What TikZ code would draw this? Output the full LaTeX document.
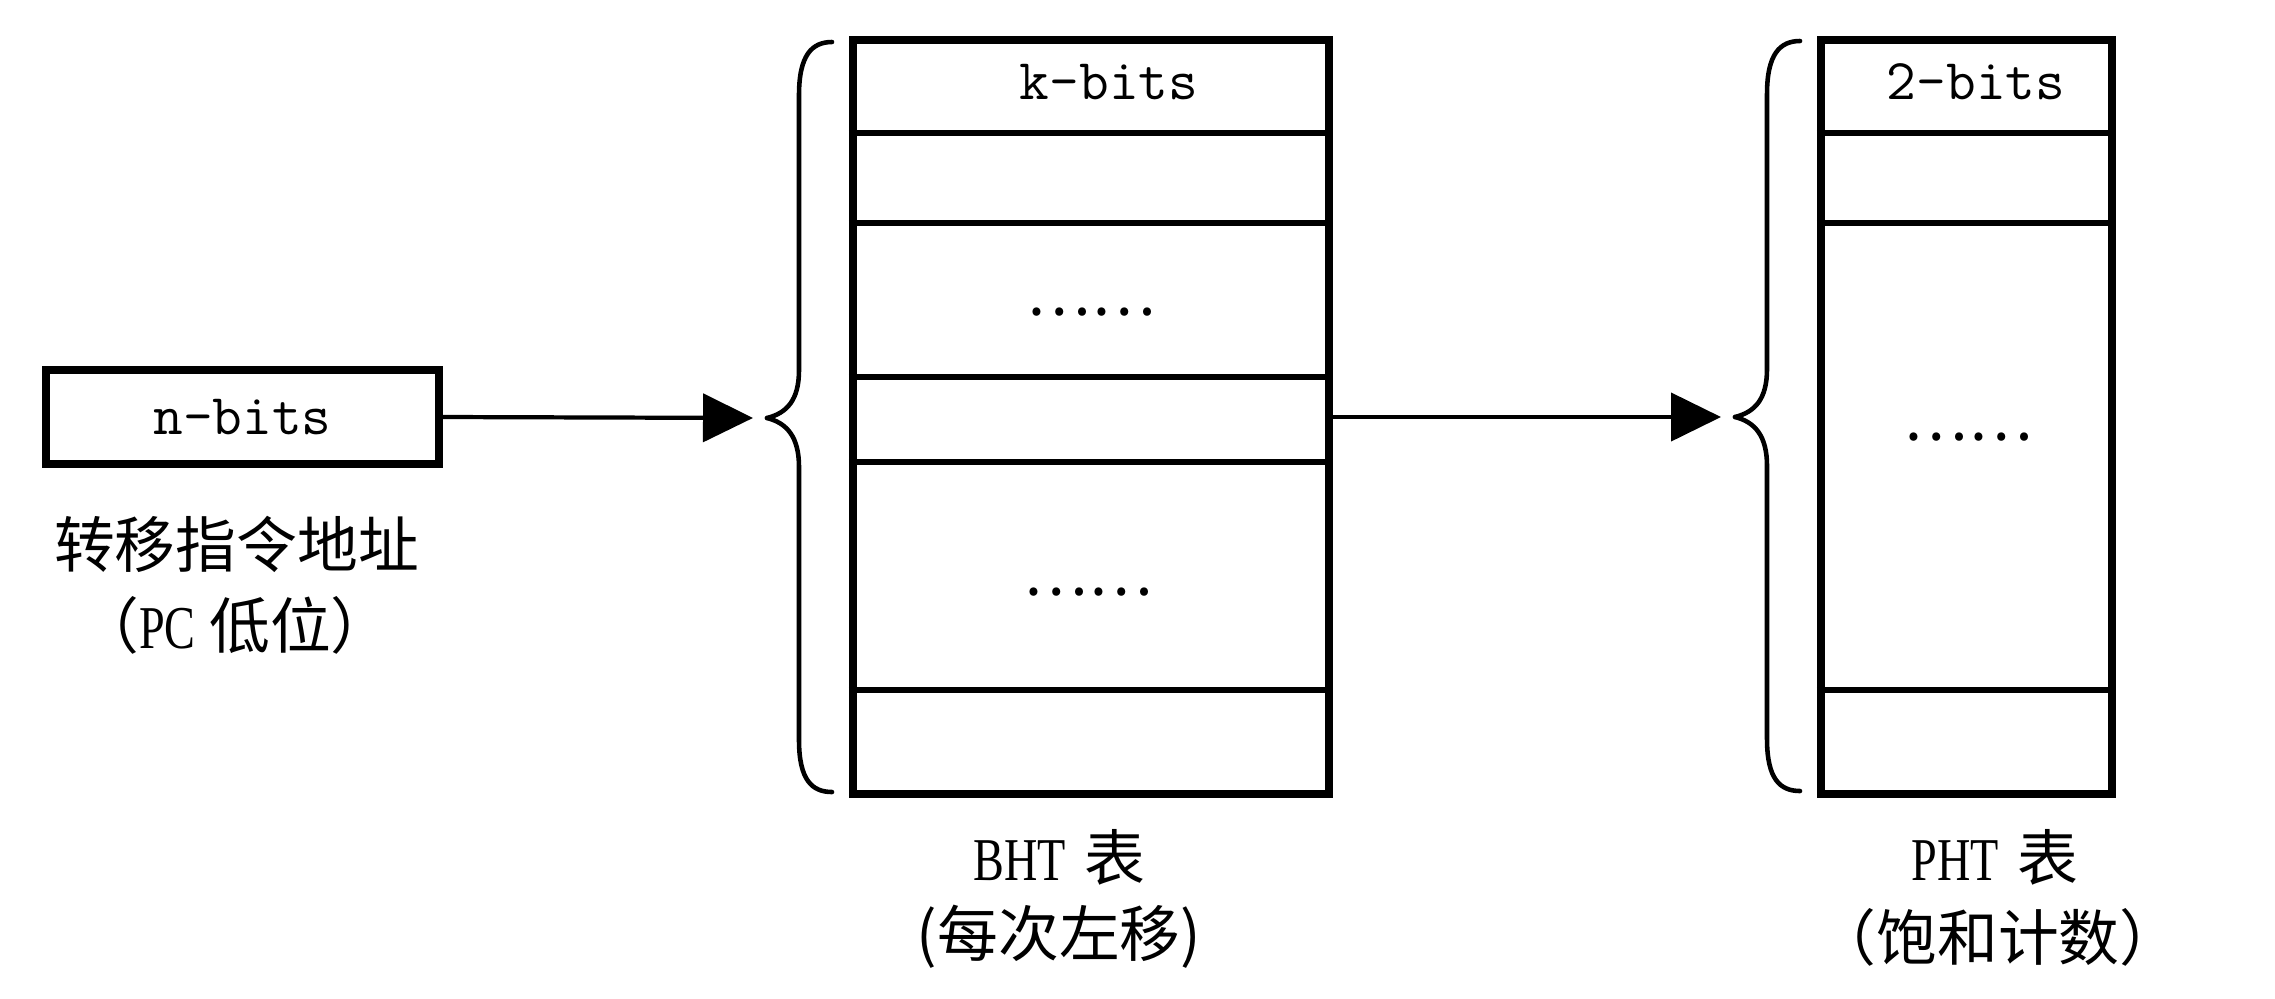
\documentclass[tikz,border=0pt]{standalone}
\usepackage{fontspec}
\newfontfamily\latn{Liberation Serif}[FakeStretch=0.76]
\newfontfamily\cjk{Noto Sans CJK SC}
\usetikzlibrary{positioning}
\usetikzlibrary{arrows.meta}

\begin{document}
\begin{tikzpicture}[
  box/.style={draw,line width=2.3pt,inner sep=0pt},
  row/.style={line width=1.6pt},
  link/.style={line width=1.2pt,-{Triangle[length=5mm,width=4.8mm]},shorten >=1.4mm},
  curly/.style={line width=1.3pt,line cap=round},
  lbl/.style={font=\fontsize{17.3pt}{21pt}\selectfont},
  bits/.style={font=\fontsize{16.4pt}{19pt}\selectfont\ttfamily}
]
 \useasboundingbox (0,0) rectangle (22.75,-9.98);
 % address register
 \node[box,bits,minimum width=3.93cm,minimum height=0.94cm] (nbits) at (2.425,-4.17) {n-bits};
 \node[lbl] (addr) at (2.365,-5.44) {\cjk 转移指令地址};
 \node[lbl] (pc) at (2.35,-6.25) {\cjk （{\latn PC} 低位）};
 % BHT table
 \node[box,minimum width=4.76cm,minimum height=7.54cm] (bht) at (10.91,-4.17) {};
 \foreach \y in {1.33,2.23,3.77,4.62,6.90}
   \draw[row] (bht.west |- 0,-\y) -- (bht.east |- 0,-\y);
 \node[bits] (kbits) at (11.09,-0.82) {k-bits};
 \node[lbl] (bdots1) at (10.91,-3.12) {\cjk ……};
 \node[lbl] (bdots2) at (10.88,-5.92) {\cjk ……};
 \node[lbl] (bhtname) at (10.59,-8.57) {{\latn BHT} \cjk 表};
 \node[lbl] (bhtnote) at (10.59,-9.37) {\cjk (每次左移)};
 % PHT table
 \node[box,minimum width=2.91cm,minimum height=7.54cm] (pht) at (19.665,-4.17) {};
 \foreach \y in {1.33,2.23,6.90}
   \draw[row] (pht.west |- 0,-\y) -- (pht.east |- 0,-\y);
 \node[bits] (twobits) at (19.76,-0.82) {2-bits};
 \node[lbl] (pdots) at (19.68,-4.37) {\cjk ……};
 \node[lbl] (phtname) at (19.95,-8.57) {{\latn PHT} \cjk 表};
 \node[lbl] (phtnote) at (19.98,-9.37) {\cjk （饱和计数）};
 % braces
 \coordinate (bhttip) at (7.67,-4.18);
 \coordinate (phttip) at (17.35,-4.17);
 \foreach \t in {bhttip,phttip} {
   \draw[curly] (\t) .. controls +(0.2,0.05) and +(0,-0.3) .. ++(0.32,0.48)
     -- ++(0,2.75) .. controls +(0,0.4) and +(-0.2,0) .. ++(0.33,0.53);
   \draw[curly] (\t) .. controls +(0.2,-0.05) and +(0,0.3) .. ++(0.32,-0.49)
     -- ++(0,-2.73) .. controls +(0,-0.4) and +(-0.2,0) .. ++(0.33,-0.52);
 }
 % arrows
 \draw[link] (nbits.east) -- (bhttip);
 \draw[link] (bht.east) -- (phttip);
\end{tikzpicture}
\end{document}
